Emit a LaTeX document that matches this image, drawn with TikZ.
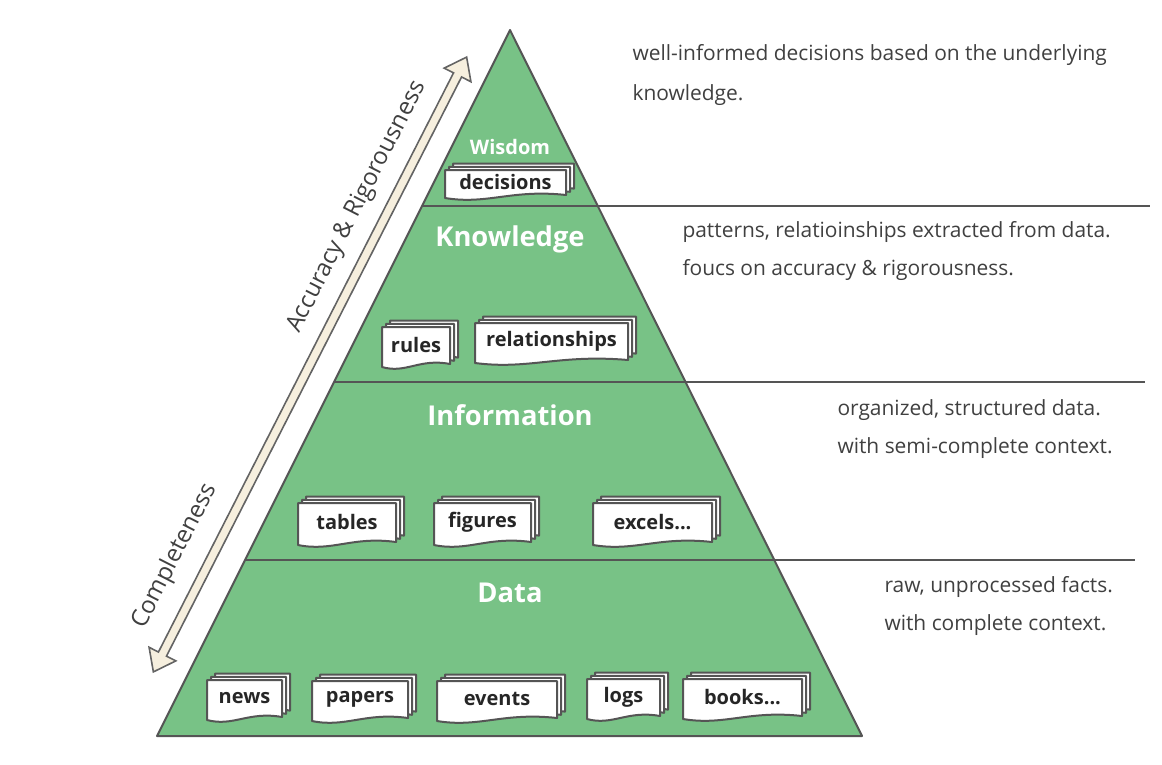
\documentclass[tikz,border=0pt]{standalone}
\usepackage{fontspec}
\setmainfont{Open Sans}
\definecolor{pyrgreen}{RGB}{120,194,134}
\definecolor{linegray}{RGB}{85,85,85}
\definecolor{textgray}{RGB}{64,64,64}
\definecolor{arrowfill}{RGB}{246,239,222}
\definecolor{arrowgray}{RGB}{100,100,100}
\tikzset{every picture/.style={line width=0.75pt},
  pyrline/.style={draw=linegray, line width=1.5pt},
  sheet/.style={draw=linegray, line width=1.5pt, fill=white, line join=round},
  doclbl/.style={inner sep=0.75pt, text=black!85, font=\fontsize{15}{17}\selectfont\bfseries},
  layerlbl/.style={inner sep=0.75pt, text=white, font=\bfseries},
  notelbl/.style={anchor=west, inner sep=0.75pt, align=left, text=textgray},
  axislbl/.style={inner sep=0.75pt, text=textgray, rotate=63, font=\fontsize{18}{21}\selectfont},
  pics/docstack/.style n args={3}{code={
    \begin{scope}[yscale=-1]
    \foreach \sh in {8,4,0} {
      \draw [sheet] (\sh,-0.8*\sh) -- (#1+\sh,-0.8*\sh) -- (#1+\sh,#2-3-0.8*\sh) .. controls (0.55*#1+\sh,#2-9-0.8*\sh) and (0.35*#1+\sh,#2+7-0.8*\sh) .. (\sh,#2-0.8*\sh) -- cycle ;
    }
    \draw (#1/2,#2/2-2) node (-lbl) [doclbl] {#3};
    \end{scope}
  }}
}

\begin{document}
\begin{tikzpicture}[x=0.75pt,y=0.75pt,yscale=-1,xscale=1]
\useasboundingbox (0,0) rectangle (1162,764);

%Shape: Triangle [id:pyramid]
\draw [pyrline, fill=pyrgreen, line join=round] (510,30) -- (862,736) -- (157,736) -- cycle ;
%Straight Lines [id:wisdom-knowledge]
\draw [pyrline] (422,206) -- (1150,206) ;
%Straight Lines [id:knowledge-information]
\draw [pyrline] (334,382) -- (1145,382) ;
%Straight Lines [id:information-data]
\draw [pyrline] (245,560) -- (1135,560) ;

%Shape: Double Arrow [id:axis]
\begin{scope}[shift={(310,364.5)}, rotate=-63]
\draw [draw=arrowgray, line width=1.2pt, fill=arrowfill, line join=miter] (-345,0) -- (-325,-15) -- (-325,-4.5) -- (325,-4.5) -- (325,-15) -- (345,0) -- (325,15) -- (325,4.5) -- (-325,4.5) -- (-325,15) -- cycle ;
\end{scope}

% Text Node
\draw (357,207) node (accuracy) [axislbl] {Accuracy \& Rigorousness};
% Text Node
\draw (175,556) node (completeness) [axislbl] {Completeness};

% Text Node
\draw (510,147) node (wisdom) [layerlbl, font=\fontsize{15}{17}\selectfont\bfseries] {Wisdom};
% Text Node
\draw (510,239) node (knowledge) [layerlbl, font=\fontsize{20.5}{24}\selectfont\bfseries] {Knowledge};
% Text Node
\draw (510,415) node (information) [layerlbl, font=\fontsize{20.5}{24}\selectfont\bfseries] {Information};
% Text Node
\draw (510,593) node (data) [layerlbl, font=\fontsize{20.5}{24}\selectfont\bfseries] {Data};

%Shape: Document stacks
\pic (decisions) at (445,170) {docstack={121}{28}{decisions}};
\pic (rules) at (382,327) {docstack={68}{40}{rules}};
\pic (relationships) at (475,323) {docstack={153}{40}{relationships}};
\pic (tables) at (298,503) {docstack={98}{42}{tables}};
\pic (figures) at (434,503) {docstack={97}{42}{figures}};
\pic (excels) at (593,503) {docstack={119}{42}{excels...}};
\pic (news) at (207,680) {docstack={75}{40}{news}};
\pic (papers) at (312,681) {docstack={96}{40}{papers}};
\pic (events) at (437,681) {docstack={120}{40}{events}};
\pic (logs) at (587,679) {docstack={73}{40}{logs}};
\pic (books) at (683,679) {docstack={119}{40}{books...}};

% Text Node
\draw (631,75) node (wisdomnote) [notelbl, font=\fontsize{15.7}{30}\selectfont] {well-informed decisions based on the underlying\\knowledge.};
% Text Node
\draw (681,251) node (knowledgenote) [notelbl, font=\fontsize{15.7}{28.5}\selectfont] {patterns, relatioinships extracted from data.\\foucs on accuracy \& rigorousness.};
% Text Node
\draw (836,429) node (informationnote) [notelbl, font=\fontsize{15.7}{28.5}\selectfont] {organized, structured data.\\with semi-complete context.};
% Text Node
\draw (883,606) node (datanote) [notelbl, font=\fontsize{15.7}{28.5}\selectfont] {raw, unprocessed facts.\\with complete context.};

\end{tikzpicture}
\end{document}
